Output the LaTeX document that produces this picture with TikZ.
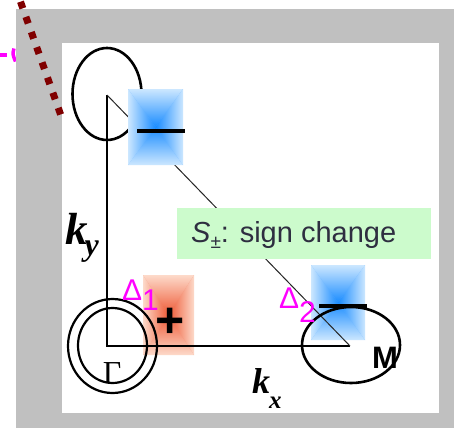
\documentclass[tikz,border=0pt]{standalone}
\usepackage{fontspec}
\newfontfamily\lsans{Liberation Sans}
\newfontfamily\lserif{Liberation Serif}
\usetikzlibrary{shapes.geometric}
\definecolor{framegray}{HTML}{C0C0C0}
\definecolor{maroonc}{HTML}{800000}
\definecolor{blueedge}{HTML}{CCE7FF}
\definecolor{bluecore}{HTML}{1A8CFF}
\definecolor{rededge}{HTML}{FDDACA}
\definecolor{redcore}{HTML}{EE5834}
\definecolor{labelgreen}{HTML}{CCFBCC}
\definecolor{labeltext}{HTML}{2E2E40}
\definecolor{deltamag}{HTML}{FF00FF}
\newcommand{\rectgrad}[3]{%
  \fill[#2!45!#3] (#1.north west) rectangle (#1.south east);
  \shade[top color=#2, bottom color=#3] (#1.center) -- (#1.north west) -- (#1.north east) -- cycle;
  \shade[top color=#3, bottom color=#2] (#1.center) -- (#1.south west) -- (#1.south east) -- cycle;
  \shade[left color=#2, right color=#3] (#1.center) -- (#1.north west) -- (#1.south west) -- cycle;
  \shade[left color=#3, right color=#2] (#1.center) -- (#1.north east) -- (#1.south east) -- cycle;
}
\tikzset{
  gapbox/.style={rectangle, inner sep=0pt, outer sep=0pt},
  axisline/.style={line width=1.8pt, black},
  diagline/.style={line width=1pt, black!85},
  orbit/.style={draw, ellipse, inner sep=0pt, line width=2.6pt, black},
  gring/.style={draw, ellipse, inner sep=0pt, line width=2.2pt, black},
  gapbar/.style={line width=4.5pt, black},
  deltalbl/.style={anchor=base west, inner sep=0pt, text=deltamag, font=\lsans\fontsize{30}{30}\selectfont},
}
\begin{document}
\begin{tikzpicture}[x=1pt,y=-1pt]
\useasboundingbox (0,0) rectangle (454,428);
\fill[white] (0,0) rectangle (454,428);
% magenta fragments at the left edge
\draw[deltamag, line width=4.5pt] (0,55) -- (7,55);
\draw[deltamag, line width=3.5pt] (14,48.5) .. controls (12.5,54) .. (15.5,61.5);
% frame
\fill[framegray] (16,9) rectangle (454,428);
\fill[white] (62,43) rectangle (439,413);
% dotted line
\draw[maroonc, line width=7pt, dash pattern=on 7pt off 9.1pt] (20.5,1.7) -- (60.6,114.5);
% gap boxes under lines
\node[gapbox, minimum width=51, minimum height=80] (gapG) at (168.5,315) {};
\rectgrad{gapG}{rededge}{redcore}
\node[gapbox, minimum width=54, minimum height=75] (gapM) at (338,302.5) {};
\rectgrad{gapM}{blueedge}{bluecore}
% axes and zone boundary
\coordinate (O) at (107,346);
\coordinate (Y) at (107,95);
\coordinate (X) at (350,346);
\draw[axisline] (Y) -- (O) -- (X);
\draw[diagline] (Y) -- (X);
% Fermi surfaces
\node[orbit, minimum width=69, minimum height=92] (fsY) at (107,94) {};
\node[orbit, minimum width=98, minimum height=76] (fsM) at (351,345) {};
\node[gring, minimum width=89, minimum height=94] (fsGo) at (112.5,346) {};
\node[gring, minimum width=69, minimum height=75] (fsGi) at (112.5,345.5) {};
% top gap box (covers line and orbit)
\node[gapbox, minimum width=55, minimum height=76] (gapY) at (155.5,127) {};
\rectgrad{gapY}{blueedge}{bluecore}
% green label
\node[rectangle, fill=labelgreen, inner sep=0pt, minimum width=254, minimum height=51, anchor=north west] (sbox) at (177,208) {};
\node[anchor=base west, inner sep=0pt, text=labeltext, font=\lsans\fontsize{29}{29}\selectfont] (stext) at (191,242) {\textit{S}\raisebox{-6pt}{\fontsize{19}{19}\selectfont ±}: sign change};
% sign bars
\coordinate (barYa) at (137,131);
\coordinate (barYb) at (185,131);
\draw[gapbar] (barYa) -- (barYb);
\coordinate (barMa) at (319,306);
\coordinate (barMb) at (367,306);
\draw[gapbar] (barMa) -- (barMb);
\node[anchor=base, inner sep=0pt, font=\lsans\bfseries\fontsize{50}{50}\selectfont] (plus) at (170.5,337) {+};
% labels
\node[deltalbl] (d1) at (122,300) {Δ\raisebox{-10pt}{1}};
\node[deltalbl] (d2) at (279,308) {Δ\raisebox{-14pt}{2}};
\node[anchor=base, inner sep=0pt, font=\lserif\fontsize{32}{32}\selectfont] (gam) at (112,383) {Γ};
\node[anchor=base west, inner sep=0pt, font=\lsans\bfseries\fontsize{31}{31}\selectfont] (mlab) at (372,368) {M};
\node[anchor=base west, inner sep=0pt, font=\lserif\bfseries\itshape] (ky) at (65,244) {\fontsize{45}{45}\selectfont k\kern-3pt\raisebox{-11pt}{\fontsize{32}{32}\selectfont y}};
\node[anchor=base west, inner sep=0pt, font=\lserif\bfseries\itshape] (kx) at (252,393) {\fontsize{36}{36}\selectfont k\kern-1pt\raisebox{-15pt}{\fontsize{25}{25}\selectfont x}};
\end{tikzpicture}
\end{document}
